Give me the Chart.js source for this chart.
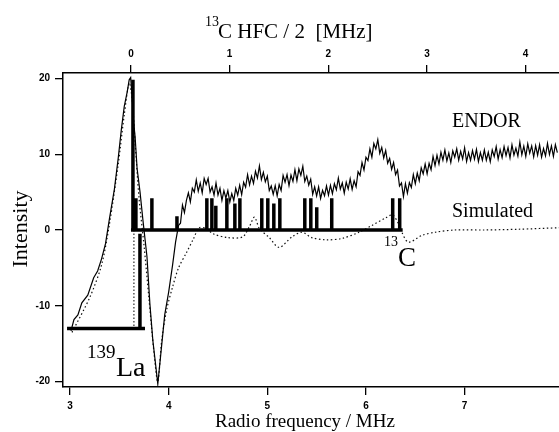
<!DOCTYPE html>
<html><head><meta charset="utf-8">
<script src="https://cdn.jsdelivr.net/npm/chart.js@4.4.1/dist/chart.umd.min.js"></script>
<style>
html,body{margin:0;padding:0;background:#fff;overflow:hidden;width:559px;height:432px;}
#wrap{position:absolute;left:0;top:0;width:583px;height:432px;}
</style></head><body>
<div id="wrap"><canvas id="c"></canvas></div>
<script>
// ---- axis ranges / ticks ----
const X_MIN = 2.929, X_MAX = 8.2;       // radio frequency / MHz
const HFC_ORIGIN = 3.618;               // rf where 13C HFC/2 = 0
const Y_MIN = -20.7, Y_MAX = 20.7;
const rfTicks = [3, 4, 5, 6, 7];
const hfcTicks = [0, 1, 2, 3, 4];
const yTicks = [-20, -10, 0, 10, 20];

// ---- ENDOR spectrum (experimental) ----
const endorLeftFreq = [3.01,3.04,3.08,3.12,3.18,3.24,3.28,3.32,3.36,3.40,3.45,3.49,3.52,3.55,3.58,3.60,3.615,3.63,3.645,3.66,3.68,3.71,3.74,3.78,3.81,3.84,3.87,3.89,3.92,3.96,4.00,4.04,4.07];
const endorLeftInt  = [-13.3,-11.8,-11.2,-9.6,-8.6,-6.3,-5.4,-3.8,-1.8,1.5,5.4,9.6,13.2,16.3,18.2,19.8,20.1,17.5,14.2,12.3,8.1,5.0,1.2,-3.5,-9.8,-14.6,-18.0,-20.3,-16.4,-11.2,-8.2,-4.6,-1.6];
const endorNoisyStart = 4.10, endorNoisyStep = 0.02;
const endorNoisyInt = [
 0.6,0.9,3.3,2.3,3.9,4.9,3.7,5.5,5.0,6.6,5.1,6.2,4.9,6.8,6.0,6.8,5.0,5.7,4.6,6.2,
 4.6,5.5,3.9,5.2,4.2,5.2,3.7,4.8,3.9,5.5,4.6,5.9,4.65,6.3,5.65,7.3,5.95,7.1,6.15,7.75,
 6.85,8.45,6.65,7.6,6.35,7.1,5.2,5.8,4.7,5.85,4.5,6.0,5.2,7.2,6.3,7.3,5.85,7.25,6.4,7.95,
 6.5,8.05,7.2,8.4,6.4,7.1,5.9,6.7,4.7,5.7,4.5,5.68,4.16,5.24,4.52,5.8,4.6,5.9,4.8,6.1,
 5.3,6.85,5.4,6.2,4.85,6.3,5.4,6.75,5.35,6.5,5.7,7.7,7.2,8.9,7.9,9.6,9.15,10.7,9.6,11.4,
 10.7,11.9,10.1,10.9,9.5,10.5,8.8,9.45,8.0,8.9,7.3,7.9,5.8,6.2,4.4,6.1,4.85,6.25,5.6,7.3,
 6.1,7.5,6.5,8.2,7.4,8.7,7.4,8.8,7.95,9.7,8.5,9.85,8.7,10.25,9.2,10.55,9.1,10.15,8.9,10.45,
 9.6,10.7,9.2,10.38,9.36,10.85,9.03,10.2,9.18,10.46,9.35,10.63,9.02,10.2,9.2,10.56,9.2,10.25,9.0,10.55,
 9.68,11.0,9.35,10.6,9.55,11.0,9.82,10.86,9.5,11.23,9.87,10.8,9.75,11.6,9.92,11.06,9.7,11.36,10.12,11.08,
 9.65,11.11,9.87,11.23,9.6,10.74,9.78,11.41,9.95,11.09,9.72,11.26,10.2];

// ---- simulated spectrum ----
const simFreq = [3.02,3.20,3.32,3.40,3.49,3.55,3.60,3.63,3.66,3.70,3.75,3.80,3.85,3.89,3.93,3.98,4.04,4.10,4.18,4.25,4.31,4.38,4.45,4.60,4.75,4.82,4.87,4.92,5.02,5.12,5.25,5.35,5.45,5.60,5.76,5.93,6.06,6.20,6.27,6.33,6.36,6.43,6.57,6.70,6.90,7.20,7.55,7.96];
const simInt  = [-13.5,-8.9,-4.6,0.8,8.8,15.2,19.4,17.2,11.5,4.2,-2.0,-9.0,-16.0,-20.0,-14.5,-10.5,-7.5,-5.0,-3.0,-1.2,0.3,0.2,-0.5,-1.0,-0.9,0.5,1.7,0.2,-1.0,-2.3,-0.9,-0.3,-1.0,-1.3,-1.1,-0.3,0.6,1.6,2.0,0.8,-0.2,-1.6,-0.7,-0.3,0.0,0.0,0.1,0.3];

// ---- 13C stick spectrum ----
const c13BaseStart = 3.618, c13BaseEnd = 6.372;
const c13StickFreq   = [3.638,3.668,3.830,4.084,4.387,4.438,4.478,4.590,4.671,4.722,4.944,5.005,5.066,5.127,5.380,5.441,5.501,5.653,6.271,6.342];
const c13StickHeight = [19.8, 4.2,  4.2,  1.8,  4.2,  4.2,  3.2,  4.2,  3.5,  4.2,  4.2,  4.2,  3.5,  4.2,  4.2,  4.2,  3.0,  4.2,  4.2,  4.2];

// ---- 139La stick spectrum ----
const laBaseLevel = -13, laBaseStart = 2.97, laBaseEnd = 3.76;
const laStickFreq = [3.709];
const laStickTop  = [-0.5];
const laGuideFreq = 3.648;

// ---- build datasets ----
const endorData = endorLeftFreq.map((f,i)=>({x:f,y:endorLeftInt[i]}))
  .concat(endorNoisyInt.map((v,i)=>({x:+(endorNoisyStart+i*endorNoisyStep).toFixed(3),y:v})));
const simData = simFreq.map((f,i)=>({x:f,y:simInt[i]}));
const c13Data = [{x:c13BaseStart,y:0}];
c13StickFreq.forEach((f,i)=>{c13Data.push({x:f,y:0},{x:f,y:c13StickHeight[i]},{x:f,y:0});});
c13Data.push({x:c13BaseEnd,y:0});
const laData = [{x:laBaseStart,y:laBaseLevel}];
laStickFreq.forEach((f,i)=>{laData.push({x:f,y:laBaseLevel},{x:f,y:laStickTop[i]},{x:f,y:laBaseLevel});});
laData.push({x:laBaseEnd,y:laBaseLevel});
const laGuide = [{x:laGuideFreq,y:0},{x:laGuideFreq,y:laBaseLevel}];

const tickFont = {family:'Liberation Sans', size:10, weight:'bold'};
function axisCommon(ticksArr){
  return {
    afterBuildTicks: s => { s.ticks = ticksArr.map(v=>({value:v})); },
    ticks:{font:tickFont,color:'#000',padding:5,autoSkip:false,maxRotation:0,callback:v=>String(v)},
    grid:{drawOnChartArea:false,tickLength:8,color:'#000',lineWidth:1.3},
    border:{display:true,color:'#000',width:1.5}
  };
}

const textPlugin = {
  id:'texts',
  afterDraw(chart){
    const ctx = chart.ctx;
    ctx.save();
    ctx.fillStyle = '#000';
    ctx.textBaseline = 'alphabetic';
    ctx.textAlign = 'left';
    const serif = 'Liberation Serif';
    // top title
    ctx.font = `14px "${serif}"`; ctx.fillText('13', 205, 26);
    ctx.font = `21px "${serif}"`; ctx.fillText('C HFC / 2  [MHz]', 218, 38);
    // bottom title
    ctx.font = `19px "${serif}"`; ctx.fillText('Radio frequency / MHz', 215, 427);
    // y title
    ctx.save();
    ctx.translate(27, 229); ctx.rotate(-Math.PI/2);
    ctx.textAlign = 'center';
    ctx.font = `22px "${serif}"`; ctx.fillText('Intensity', 0, 0);
    ctx.restore();
    // annotations
    ctx.font = `20px "${serif}"`;
    ctx.fillText('ENDOR', 452, 127);
    ctx.fillText('Simulated', 452, 217);
    ctx.font = `14px "${serif}"`; ctx.fillText('13', 384, 246);
    ctx.font = `27px "${serif}"`; ctx.fillText('C', 398, 266);
    ctx.font = `19px "${serif}"`; ctx.fillText('139', 87, 358);
    ctx.font = `28px "${serif}"`; ctx.fillText('La', 116, 376);
    ctx.restore();
  }
};

new Chart(document.getElementById('c'), {
  type:'line',
  data:{datasets:[
    {label:'13C sticks',data:c13Data,borderColor:'#000',borderWidth:3.5,pointRadius:0,tension:0,borderJoinStyle:'miter',xAxisID:'x',yAxisID:'y'},
    {label:'139La sticks',data:laData,borderColor:'#000',borderWidth:3.5,pointRadius:0,tension:0,xAxisID:'x',yAxisID:'y'},
    {label:'guide',data:laGuide,borderColor:'#000',borderWidth:1,borderDash:[1.5,2],pointRadius:0,xAxisID:'x',yAxisID:'y'},
    {label:'ENDOR',data:endorData,borderColor:'#000',borderWidth:1.2,pointRadius:0,tension:0,xAxisID:'x',yAxisID:'y'},
    {label:'Simulated',data:simData,borderColor:'#111',borderWidth:1.2,borderDash:[1.5,2.5],pointRadius:0,tension:0.3,xAxisID:'x',yAxisID:'y'}
  ]},
  options:{
    responsive:true, maintainAspectRatio:false, animation:false, devicePixelRatio:1,
    layout:{padding:0},
    plugins:{legend:{display:false},tooltip:{enabled:false},title:{display:false}},
    scales:{
      x:Object.assign({type:'linear',position:'bottom',min:X_MIN,max:X_MAX,afterFit:s=>{s.height=45;}},axisCommon(rfTicks)),
      x2:Object.assign({type:'linear',position:'top',min:X_MIN-HFC_ORIGIN,max:X_MAX-HFC_ORIGIN,afterFit:s=>{s.height=73;}},axisCommon(hfcTicks)),
      y:Object.assign({type:'linear',position:'left',min:Y_MIN,max:Y_MAX,afterFit:s=>{s.width=63;}},axisCommon(yTicks))
    }
  },
  plugins:[textPlugin]
});
</script>
</body></html>
